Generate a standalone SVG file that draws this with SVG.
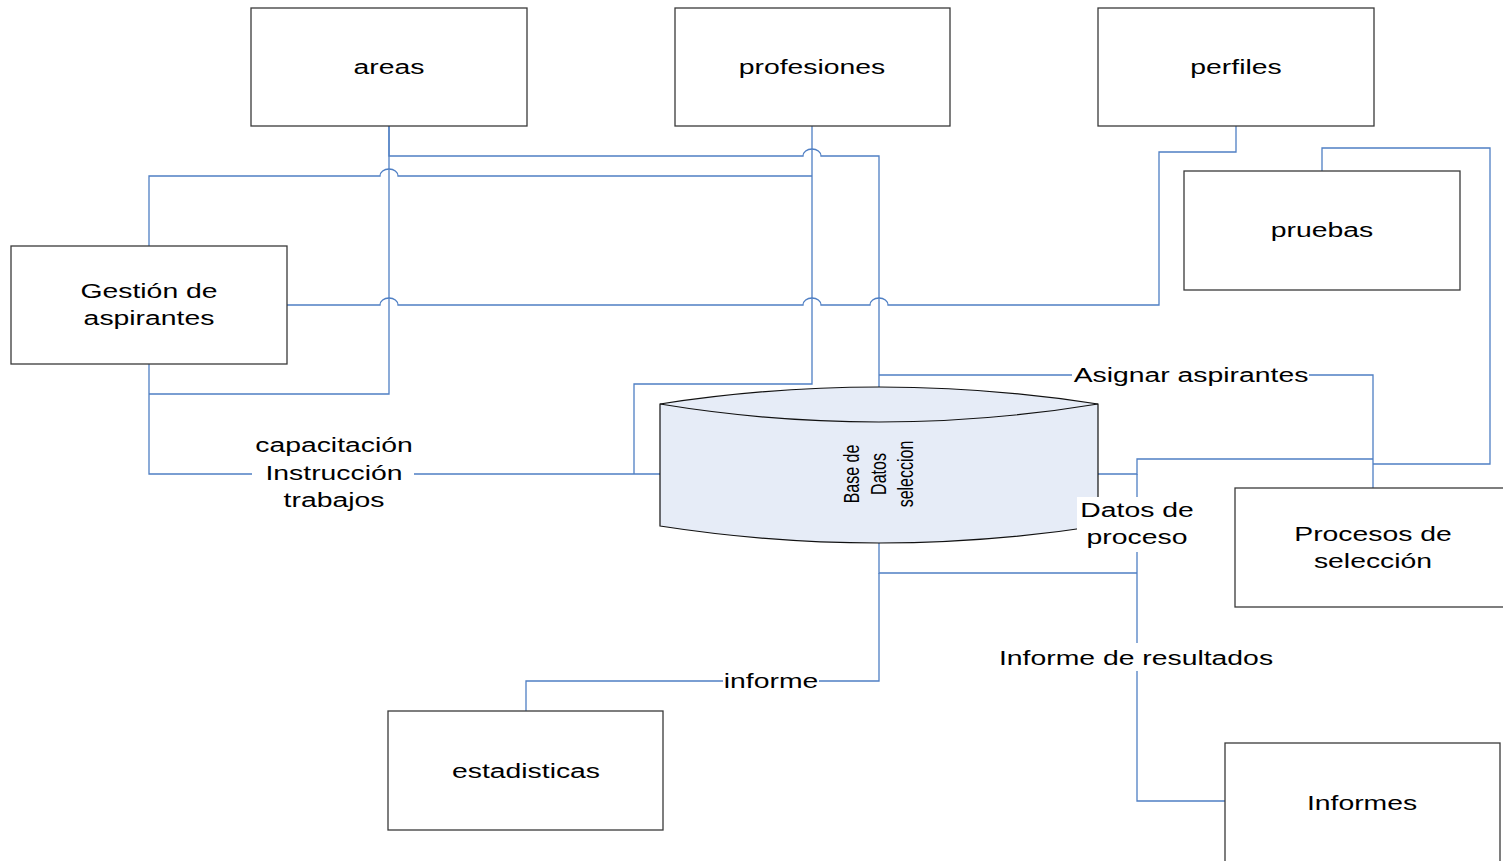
<svg xmlns="http://www.w3.org/2000/svg" width="1503" height="861" viewBox="0 0 1503 861">
<style>
.box{fill:#fff;stroke:#3a3a3a;stroke-width:1.3}
.c{fill:none;stroke:#4F7FC4;stroke-width:1.3}
.t{font-family:"Liberation Sans",Arial,sans-serif;font-size:21px;fill:#000;text-anchor:middle}
.ct{font-family:"Liberation Sans",Arial,sans-serif;font-size:16px;fill:#000;text-anchor:middle}
.bg{fill:#fff;stroke:none}
</style>
<rect width="1503" height="861" fill="#fff"/>
<g id="connectors">
<path class="c" d="M389,126 V156 H803 A9,7 0 0 1 821,156 H879 V387"/>
<path class="c" d="M149,394 H389 V126"/>
<path class="c" d="M149,246 V176 H380 A9,7 0 0 1 398,176 H812"/>
<path class="c" d="M812,126 V384 H634 V474"/>
<path class="c" d="M149,364 V474 H660"/>
<path class="c" d="M287,305 H380 A9,7 0 0 1 398,305 H803 A9,7 0 0 1 821,305 H870 A9,7 0 0 1 888,305 H1159 V152 H1236 V126"/>
<path class="c" d="M879,375 H1373 V488"/>
<path class="c" d="M1098,474 H1137 V459 H1373"/>
<path class="c" d="M1322,171 V148 H1490 V464 H1373"/>
<path class="c" d="M879,543 V573 H1137"/>
<path class="c" d="M1137,474 V801 H1225"/>
<path class="c" d="M879,573 V681 H526 V711"/>
</g>
<g id="areas"><rect class="box" x="251" y="8" width="276" height="118"/><text class="t" transform="translate(389,74) scale(1.35,1)">areas</text></g>
<g id="profesiones"><rect class="box" x="675" y="8" width="275" height="118"/><text class="t" transform="translate(812,74) scale(1.35,1)">profesiones</text></g>
<g id="perfiles"><rect class="box" x="1098" y="8" width="276" height="118"/><text class="t" transform="translate(1236,74) scale(1.35,1)">perfiles</text></g>
<g id="pruebas"><rect class="box" x="1184" y="171" width="276" height="119"/><text class="t" transform="translate(1322,237) scale(1.35,1)">pruebas</text></g>
<g id="gestion"><rect class="box" x="11" y="246" width="276" height="118"/><text class="t" transform="translate(149,298) scale(1.35,1)">Gestión de</text><text class="t" transform="translate(149,325) scale(1.35,1)">aspirantes</text></g>
<g id="procesos"><rect class="box" x="1235" y="488" width="276" height="119"/><text class="t" transform="translate(1373,541) scale(1.35,1)">Procesos de</text><text class="t" transform="translate(1373,568) scale(1.35,1)">selección</text></g>
<g id="estadisticas"><rect class="box" x="388" y="711" width="275" height="119"/><text class="t" transform="translate(526,778) scale(1.35,1)">estadisticas</text></g>
<g id="informes"><rect class="box" x="1225" y="743" width="275" height="119"/><text class="t" transform="translate(1362,810) scale(1.35,1)">Informes</text></g>
<g id="basedatos">
<path d="M660,404 Q879,370 1098,404 V526 Q879,560 660,526 Z" fill="#E6ECF7" stroke="#111" stroke-width="1.2"/>
<path d="M660,404 Q879,440 1098,404" fill="none" stroke="#111" stroke-width="1.2"/>
<text class="ct" transform="translate(859,474) rotate(-90) scale(1,1.39)">Base de</text>
<text class="ct" transform="translate(886,474) rotate(-90) scale(1,1.39)">Datos</text>
<text class="ct" transform="translate(913,474) rotate(-90) scale(1,1.39)">seleccion</text>
</g>
<g id="labels">
<rect class="bg" x="252" y="432" width="162" height="80"/>
<text class="t" transform="translate(334,452) scale(1.35,1)">capacitación</text>
<text class="t" transform="translate(334,480) scale(1.35,1)">Instrucción</text>
<text class="t" transform="translate(334,507) scale(1.35,1)">trabajos</text>
<rect class="bg" x="1072" y="364" width="237" height="24"/>
<text class="t" transform="translate(1191,382) scale(1.35,1)">Asignar aspirantes</text>
<rect class="bg" x="1077" y="497" width="118" height="55"/>
<text class="t" transform="translate(1137,517) scale(1.35,1)">Datos de</text>
<text class="t" transform="translate(1137,544) scale(1.35,1)">proceso</text>
<rect class="bg" x="997" y="643" width="280" height="28"/>
<text class="t" transform="translate(1136,665) scale(1.35,1)">Informe de resultados</text>
<rect class="bg" x="723" y="670" width="96" height="24"/>
<text class="t" transform="translate(771,688) scale(1.35,1)">informe</text>
</g>
</svg>
